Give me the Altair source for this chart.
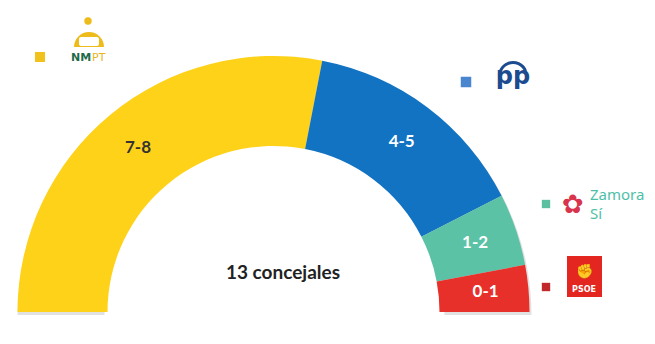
import math
import altair as alt
import pandas as pd

# ---- data ----
parties = ["NMPT", "PP", "Zamora Sí", "PSOE"]
shares = [56.1, 28.9, 9.1, 5.9]          # share of the half circle (%)
ranges = ["7-8", "4-5", "1-2", "0-1"]
colors = ["#FFD21A", "#1373C3", "#5CC2A6", "#E8302A"]
label_colors = ["#333333", "#FFFFFF", "#FFFFFF", "#FFFFFF"]
total_label = "13 concejales"

df = pd.DataFrame({
    "party": parties,
    "share": shares,
    "range": ranges,
    "idx": list(range(len(parties))),
    "lc": label_colors,
})

CX, CY = 273.5, 312
R_OUT, R_IN = 256, 166
FONT = "Lato"
TAU = 2 * math.pi

theta = alt.Theta("share:Q", stack=True,
                  scale=alt.Scale(range=[-math.pi / 2, math.pi / 2]))
order = alt.Order("idx:Q")
color = alt.Color("party:N", scale=alt.Scale(domain=parties, range=colors), legend=None)

base = alt.Chart(df)

shadow = base.mark_arc(radius=R_OUT + 1, radius2=R_IN + 4, color="#9a9a9a", opacity=0.3).encode(
    theta=theta, order=order, x=alt.value(CX + 1), y=alt.value(CY + 3)
)

arcs = base.mark_arc(radius=R_OUT, radius2=R_IN).encode(
    theta=theta, order=order, color=color, x=alt.value(CX), y=alt.value(CY)
)

labels = base.mark_text(radius=213, fontSize=17, fontWeight="bold", font=FONT).encode(
    theta=theta, order=order, text="range:N",
    color=alt.Color("lc:N", scale=None), x=alt.value(CX), y=alt.value(CY)
)

one = pd.DataFrame({"t": [total_label]})
center = alt.Chart(one).mark_text(fontSize=19, fontWeight="bold", font=FONT, color="#222222").encode(
    text="t:N", x=alt.value(283), y=alt.value(273)
)

# ---- legend squares ----
sq_colors = ["#F2C21C", "#4A86D0", "#5BC0A0", "#C0282A"]
sq_x = [40, 466, 546, 546]
sq_y = [57, 82, 204, 287]
sq_s = [100, 110, 70, 70]
squares = alt.layer(*[
    alt.Chart(one).mark_square(filled=True, opacity=1, color=c, size=s).encode(
        x=alt.value(x), y=alt.value(y))
    for c, x, y, s in zip(sq_colors, sq_x, sq_y, sq_s)
])

# ---- NMPT logo ----
nmpt_dot = alt.Chart(one).mark_circle(color="#EDBB1A", size=55, opacity=1).encode(
    x=alt.value(88), y=alt.value(21))
nmpt_dome = alt.Chart(one).mark_arc(radius=15, theta=1.5 * math.pi, theta2=2.5 * math.pi,
                                      color="#EDBB1A").encode(x=alt.value(89), y=alt.value(47))
nmpt_inner = alt.Chart(one).mark_rect(color="#FFFFFF", cornerRadius=2).encode(
    x=alt.value(79), x2=alt.value(99), y=alt.value(37), y2=alt.value(46))
nmpt_nm = alt.Chart(one).mark_text(text="NM", fontSize=11, fontWeight="bold", font="DejaVu Sans",
                                    color="#1F6B4B", align="left").encode(x=alt.value(71), y=alt.value(58))
nmpt_pt = alt.Chart(one).mark_text(text="PT", fontSize=11, font="DejaVu Sans",
                                    color="#E9B51C", align="left").encode(x=alt.value(92), y=alt.value(58))

# ---- PP logo ----
pp_arc = alt.Chart(one).mark_arc(radius=15, radius2=12, theta=TAU - 1.9, theta2=TAU + 1.2,
                                 color="#1D4B8F").encode(x=alt.value(513), y=alt.value(76))
pp_text = alt.Chart(one).mark_text(text="pp", fontSize=24, fontWeight="bold", font="DejaVu Sans",
                                   color="#1D4B8F", align="center").encode(x=alt.value(513), y=alt.value(77))

# ---- Zamora Sí logo ----
z_flower = alt.Chart(one).mark_text(text="✿", fontSize=26, font="DejaVu Sans",
                                    color="#D8344C").encode(x=alt.value(573), y=alt.value(205))
z_dot = alt.Chart(one).mark_circle(color="#FFFFFF", size=14, opacity=1).encode(
    x=alt.value(573), y=alt.value(205))
z_t1 = alt.Chart(one).mark_text(text="Zamora", fontSize=15, font="Noto Sans",
                                color="#4DBFA8", align="left", baseline="middle").encode(
    x=alt.value(590), y=alt.value(195))
z_t2 = alt.Chart(one).mark_text(text="Sí", fontSize=15, font="Noto Sans",
                                color="#4DBFA8", align="left", baseline="middle").encode(
    x=alt.value(590), y=alt.value(214))

# ---- PSOE logo ----
psoe_box = alt.Chart(one).mark_rect(color="#E3261F").encode(
    x=alt.value(567), x2=alt.value(602), y=alt.value(256), y2=alt.value(297))
psoe_sym = alt.Chart(one).mark_text(text="✊", fontSize=14, font="DejaVu Sans",
                                    color="#F7B9B5").encode(x=alt.value(584), y=alt.value(272))
psoe_t = alt.Chart(one).mark_text(text="PSOE", fontSize=8, fontWeight="bold", font="DejaVu Sans",
                                  color="#FFFFFF").encode(x=alt.value(584), y=alt.value(290))

chart = alt.layer(
    shadow, arcs, labels, center, squares,
    nmpt_dot, nmpt_dome, nmpt_inner, nmpt_nm, nmpt_pt,
    pp_arc, pp_text,
    z_flower, z_dot, z_t1, z_t2,
    psoe_box, psoe_sym, psoe_t,
).properties(
    width=655, height=344, padding=0, autosize=alt.AutoSizeParams(type="none"),
    background="#FFFFFF",
).configure_view(stroke=None)

chart.save("out.html", embed_options={"renderer": "svg", "actions": False})
